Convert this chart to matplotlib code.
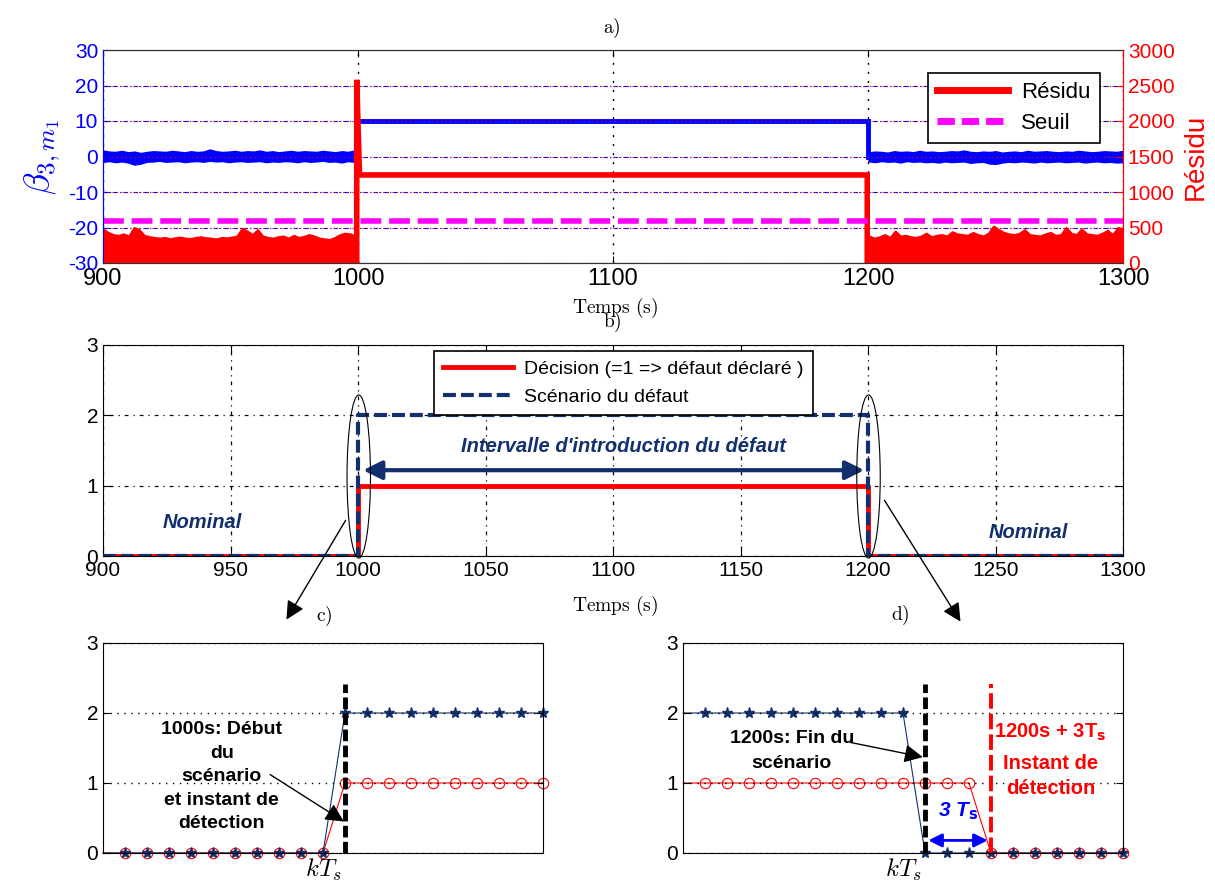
import numpy as np
import matplotlib
matplotlib.use('Agg')
import matplotlib.pyplot as plt
from matplotlib.patches import Ellipse, FancyArrowPatch
from matplotlib.lines import Line2D

plt.rcParams['font.family'] = ['Liberation Sans', 'DejaVu Sans']
plt.rcParams['mathtext.fontset'] = 'cm'
plt.rcParams['axes.unicode_minus'] = False

# ---------------- data ----------------
t_start, t_fault, t_end_fault, t_stop = 900, 1000, 1200, 1300

# beta_{3,m1}: noisy band (upper / lower envelope) outside the fault, step during fault
beta_pre_hi = [1.6, 1.3, 1.2, 1.5, 1.1, 1.3, 0.9, 1.2, 1.4, 1.3, 1.2, 1.5, 1.3, 1.1, 1.4, 1.2,
               1.3, 1.9, 1.4, 1.2, 1.3, 1.5, 1.2, 1.4, 1.3, 1.6, 1.2, 1.4, 1.1, 1.3, 1.5, 1.2,
               1.4, 1.3, 1.2, 1.5, 1.3, 1.1, 1.4, 1.2, 1.6]
beta_pre_lo = [-1.4, -1.2, -1.5, -1.3, -1.6, -2.2, -1.9, -1.4, -1.3, -1.1, -1.4, -1.3, -1.2,
               -1.5, -1.3, -1.2, -1.4, -1.1, -1.3, -1.2, -1.5, -1.3, -1.2, -1.4, -1.3, -1.2,
               -1.5, -1.3, -1.4, -1.2, -1.3, -1.5, -1.2, -1.4, -1.3, -1.1, -1.4, -1.3, -1.6,
               -1.2, -1.4]
beta_post_hi = [1.1, 1.3, 1.2, 1.0, 1.4, 1.2, 1.3, 1.1, 1.5, 1.2, 1.3, 1.1, 1.2, 1.4, 1.3, 1.6,
                1.2, 1.1, 1.3, 1.2, 1.4, 1.0, 1.2, 1.3, 1.1, 1.5, 1.2, 1.3, 1.4, 1.2, 1.1, 1.3,
                1.2, 1.5, 1.3, 1.1, 1.2, 1.4, 1.3, 1.2, 1.5]
beta_post_lo = [-1.3, -1.5, -1.2, -1.4, -1.3, -1.6, -1.2, -1.4, -1.3, -1.5, -1.4, -1.6, -1.3,
                -1.5, -1.4, -1.3, -1.7, -1.5, -1.4, -1.9, -2.0, -1.6, -1.4, -1.5, -1.3, -1.4,
                -1.6, -1.3, -1.5, -1.4, -1.3, -1.5, -1.4, -1.3, -1.6, -1.4, -1.3, -1.5, -1.4,
                -1.6, -1.5]
beta_fault = 10

# residual (right axis): envelope of the fast oscillating residual outside the fault
res_pre = [480, 430, 400, 390, 410, 380, 500, 470, 390, 370, 360, 350, 360, 340, 355, 365, 350,
           345, 360, 370, 355, 350, 340, 360, 355, 365, 380, 490, 450, 400, 470, 380, 360, 350,
           370, 380, 350, 390, 360, 375, 400, 380, 350, 340, 330, 360, 400, 420, 410, 380]
res_post = [380, 350, 370, 400, 360, 450, 380, 390, 370, 360, 380, 420, 370, 390, 400, 380, 440,
            410, 400, 390, 430, 400, 380, 420, 520, 470, 430, 410, 400, 420, 470, 400, 390, 380,
            410, 430, 390, 400, 500, 420, 400, 480, 410, 400, 390, 420, 460, 400, 500, 480]
res_peak = 2580
res_fault = 1240
seuil = 590

dec_t = [900, 1000, 1000, 1200, 1200, 1300]
dec_v = [0, 0, 1, 1, 0, 0]
scen_v = [0, 0, 2, 2, 0, 0]

k = list(range(21))
c_scen = [0] * 11 + [2] * 10
c_dec = [0] * 11 + [1] * 10
d_scen = [2] * 11 + [0] * 10
d_dec = [1] * 14 + [0] * 7
k_start = 11
k_detect_end = 14

# ---------------- figure ----------------
W, H = 1215, 886
fig = plt.figure(figsize=(W / 100, H / 100), dpi=100)


def box(x0, y0, x1, y1):
    return [x0 / W, 1 - y1 / H, (x1 - x0) / W, (y1 - y0) / H]


NAVY = '#13306e'
BLUE = '#0000ff'
RED = '#ff0000'
MAG = '#ff00ff'

# ---------------- panel a ----------------
axa = fig.add_axes(box(103, 50, 1123, 263))
ax2 = axa.twinx()

t_pre = np.linspace(t_start, t_fault - 1.5, len(beta_pre_hi))
t_post = np.linspace(t_end_fault + 0.3, t_stop, len(beta_post_hi))
axa.fill_between(t_pre, beta_pre_lo, beta_pre_hi, color=BLUE, lw=1.4, edgecolor=BLUE, zorder=3)
axa.fill_between(t_post, beta_post_lo, beta_post_hi, color=BLUE, lw=1.4, edgecolor=BLUE,
                 zorder=3)
axa.plot([t_fault, t_end_fault, t_end_fault], [beta_fault, beta_fault, 0], color=BLUE, lw=3.5,
         zorder=3, solid_joinstyle='miter')
axa.set_xlim(t_start, t_stop)
axa.set_ylim(-30, 30)
axa.set_xticks(range(900, 1301, 100))
axa.set_yticks(range(-30, 31, 10))
axa.tick_params(axis='x', direction='in', labelsize=17, top=True, length=5)
axa.tick_params(axis='y', direction='in', labelsize=15, colors=BLUE, labelcolor=BLUE, length=5)
axa.yaxis.grid(True, color=BLUE, ls=(0, (4, 2, 1, 2)), lw=0.8)
axa.xaxis.grid(True, color='black', ls=(0, (1.5, 5)), lw=1.0)

tr_pre = np.linspace(t_start, t_fault - 1.0, len(res_pre))
tr_post = np.linspace(t_end_fault + 0.5, t_stop, len(res_post))
ax2.fill_between(tr_pre, 0, res_pre, color=RED, lw=1.5, edgecolor=RED)
ax2.fill_between(tr_post, 0, res_post, color=RED, lw=1.5, edgecolor=RED)
ax2.plot([t_fault - 0.5, t_fault - 0.5, t_fault + 0.6, t_end_fault - 0.3, t_end_fault - 0.3],
         [0, res_peak, res_fault, res_fault, 0], color=RED, lw=4, solid_joinstyle='miter')
ax2.plot([t_start, t_stop], [seuil, seuil], color=MAG, lw=4, ls=(0, (3.75, 1.4)))
ax2.set_ylim(0, 3000)
ax2.set_yticks(range(0, 3001, 500))
ax2.tick_params(axis='y', direction='in', labelsize=15, colors=RED, labelcolor=RED, length=5)
ax2.yaxis.grid(True, color=RED, ls=(0, (1, 3)), lw=0.8)
for a in (axa, ax2):
    a.spines['left'].set_color(BLUE)
    a.spines['right'].set_color(RED)
    a.spines['top'].set_color('#333333')
    a.spines['bottom'].set_color('#333333')

leg_a = ax2.legend(handles=[Line2D([], [], color=RED, lw=5),
                            Line2D([], [], color=MAG, lw=5, ls=(0, (2.5, 1)))],
                   labels=['Résidu', 'Seuil'], loc='upper right',
                   bbox_to_anchor=(0.988, 0.944), fontsize=16, fancybox=False,
                   framealpha=1, edgecolor='black', handlelength=3.2, labelspacing=0.45,
                   borderpad=0.4, handletextpad=0.6)
leg_a.get_frame().set_linewidth(1.2)

fig.text(42 / W, 1 - 157 / H, r'$\beta_{3,m_1}$', rotation=90, color=BLUE, fontsize=26,
         ha='center', va='center')
fig.text(1196 / W, 1 - 157 / H, 'Résidu', rotation=90, color=RED, fontsize=20,
         ha='center', va='center')
fig.text(612 / W, 1 - 28 / H, r'$\mathrm{a)}$', fontsize=14, ha='center', va='center')
fig.text(615 / W, 1 - 308 / H, r'$\mathrm{Temps\ (s)}$', fontsize=14, ha='center', va='center')

# ---------------- panel b ----------------
axb = fig.add_axes(box(103, 345, 1123, 556))
axb.plot(dec_t, dec_v, color=RED, lw=3.5, zorder=3, label='Décision (=1 => défaut déclaré )')
axb.plot(dec_t, scen_v, color=NAVY, lw=3, ls=(0, (3.1, 1.2)), zorder=4,
         label='Scénario du défaut')
axb.set_xlim(t_start, t_stop)
axb.set_ylim(0, 3)
axb.set_xticks(range(900, 1301, 50))
axb.set_yticks([0, 1, 2, 3])
axb.tick_params(direction='in', labelsize=15, top=True, right=True, length=5)
axb.grid(True, color='black', ls=(0, (1, 4, 3, 4)), lw=0.9)
leg_b = axb.legend(loc='upper left', bbox_to_anchor=(0.315, 1.016), fontsize=14,
                   fancybox=False, framealpha=1, edgecolor='black', handlelength=3.6,
                   labelspacing=0.55, borderpad=0.45, handletextpad=0.6)
leg_b.get_frame().set_linewidth(1.2)
leg_b.set_zorder(10)

for xc in (t_fault + 0.3, t_end_fault + 0.2):
    axb.add_patch(Ellipse((xc, 1.13), width=9.2, height=2.32, fill=False, ec='black',
                          lw=0.8, clip_on=False, zorder=5))
axb.annotate('', xy=(1002.0, 1.22), xytext=(1198.5, 1.22),
             arrowprops=dict(arrowstyle='<|-|>', color=NAVY, lw=3, mutation_scale=28,
                             shrinkA=0, shrinkB=0))
axb.text(1104, 1.55, "Intervalle d'introduction du défaut", color=NAVY, fontsize=14.5,
         fontweight='bold', style='italic', ha='center', va='center')
axb.text(939, 0.48, 'Nominal', color=NAVY, fontsize=14.5, fontweight='bold', style='italic',
         ha='center', va='center')
axb.text(1263, 0.34, 'Nominal', color=NAVY, fontsize=14.5, fontweight='bold', style='italic',
         ha='center', va='center')

fig.text(612 / W, 1 - 322 / H, r'$\mathrm{b)}$', fontsize=14, ha='center', va='center')
fig.text(615 / W, 1 - 606 / H, r'$\mathrm{Temps\ (s)}$', fontsize=14, ha='center', va='center')

for (p0, p1) in [((347, 518), (285, 622)), ((883, 498), (962, 624))]:
    fig.add_artist(FancyArrowPatch((p0[0] / W, 1 - p0[1] / H), (p1[0] / W, 1 - p1[1] / H),
                                   transform=fig.transFigure, arrowstyle='-|>',
                                   mutation_scale=28, lw=1.0, color='black'))
fig.text(324 / W, 1 - 616 / H, r'$\mathrm{c)}$', fontsize=14, ha='center', va='center')
fig.text(900 / W, 1 - 615 / H, r'$\mathrm{d)}$', fontsize=14, ha='center', va='center')


# ---------------- panels c, d ----------------
def setup_zoom(ax):
    ax.set_xlim(0, 20)
    ax.set_ylim(0, 3)
    ax.set_yticks([0, 1, 2, 3])
    ax.set_xticks([10])
    ax.set_xticklabels([r'$kT_s$'], fontsize=18)
    ax.tick_params(axis='x', length=0, pad=3)
    ax.tick_params(axis='y', direction='in', labelsize=15, right=True, length=5)
    ax.yaxis.grid(True, color='black', ls=(0, (1, 4)), lw=1.0)
    ax.set_axisbelow(False)


mk = slice(1, None)
axc = fig.add_axes(box(103, 643, 543, 853))
axc.plot(k, c_dec, color=RED, lw=0.8, marker='o', ms=7.5, mfc='none', mec=RED, mew=0.8,
         markevery=mk, clip_on=False)
axc.plot(k, c_scen, color=NAVY, lw=0.8, marker='*', ms=8, mec=NAVY, mfc=NAVY,
         markevery=mk, clip_on=False)
axc.plot([k_start, k_start], [0, 2.42], color='black', lw=3.5, ls=(0, (2.4, 0.9)), zorder=4)
setup_zoom(axc)
axc.text(5.4, 1.09, "1000s: Début\ndu\nscénario\net instant de\ndétection", fontsize=14,
         fontweight='bold', ha='center', va='center', linespacing=1.5)
axc.annotate('', xy=(10.95, 0.45), xytext=(7.6, 1.12),
             arrowprops=dict(arrowstyle='-|>', color='black', lw=1.0, mutation_scale=28,
                             shrinkA=0, shrinkB=0))

axd = fig.add_axes(box(683, 643, 1123, 853))
axd.plot(k, d_dec, color=RED, lw=0.8, marker='o', ms=7.5, mfc='none', mec=RED, mew=0.8,
         markevery=mk, clip_on=False)
axd.plot(k, d_scen, color=NAVY, lw=0.8, marker='*', ms=8, mec=NAVY, mfc=NAVY,
         markevery=mk, clip_on=False)
axd.plot([k_start, k_start], [0, 2.42], color='black', lw=3.5, ls=(0, (2.4, 0.9)), zorder=4)
axd.plot([k_detect_end, k_detect_end], [0, 2.42], color=RED, lw=2.8, ls=(0, (4, 1.3)),
         zorder=4)
setup_zoom(axd)
axd.text(4.95, 1.46, "1200s: Fin du\nscénario", fontsize=14, fontweight='bold',
         ha='center', va='center', linespacing=1.65)
axd.annotate('', xy=(10.9, 1.37), xytext=(7.6, 1.58),
             arrowprops=dict(arrowstyle='-|>', color='black', lw=1.0, mutation_scale=28,
                             shrinkA=0, shrinkB=0))
axd.text(16.7, 1.72, r'1200s + 3T$_\mathbf{s}$', color=RED, fontsize=14.5, fontweight='bold',
         ha='center', va='center', math_fontfamily='dejavusans')
axd.text(16.7, 1.1, 'Instant de\ndétection', color=RED, fontsize=14.5, fontweight='bold',
         ha='center', va='center', linespacing=1.45)
axd.text(12.5, 0.6, r'3 T$_\mathbf{s}$', color=BLUE, fontsize=15, fontweight='bold',
         style='italic', ha='center', va='center', math_fontfamily='dejavusans')
axd.annotate('', xy=(11.15, 0.18), xytext=(13.85, 0.18),
             arrowprops=dict(arrowstyle='<|-|>', color=BLUE, lw=2, mutation_scale=20,
                             shrinkA=0, shrinkB=0))

fig.savefig('out.png', dpi=100)
